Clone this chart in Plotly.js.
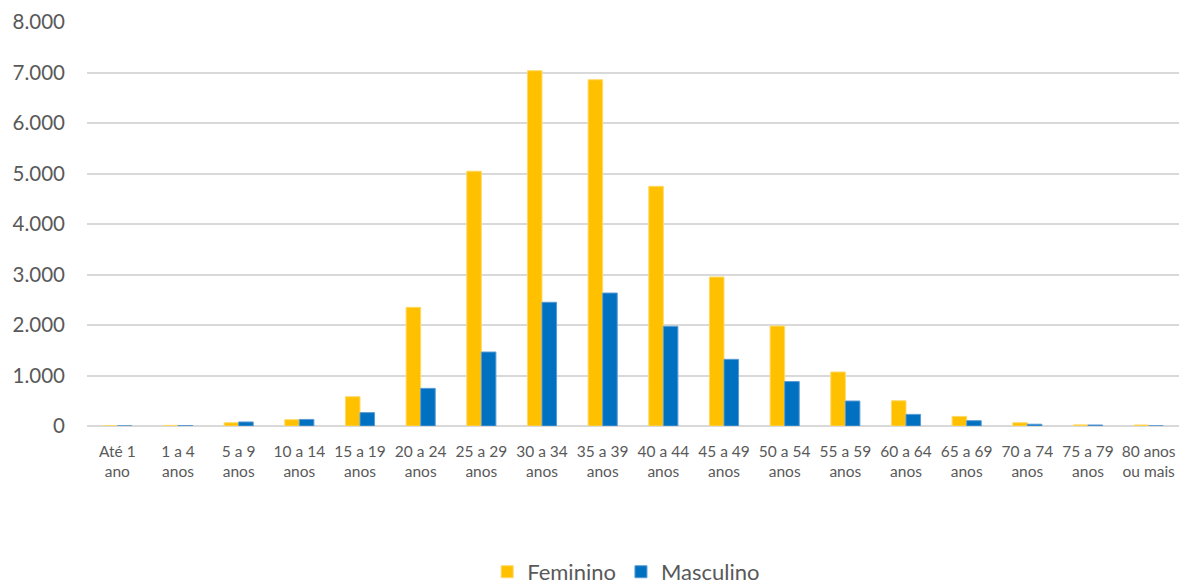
<!DOCTYPE html>
<html><head><meta charset="utf-8">
<script src="https://cdn.plot.ly/plotly-3.0.1.min.js"></script>
<style>html,body{margin:0;padding:0;background:#fff}#chart{width:1195px;height:586px}</style>
</head><body><div id="chart"></div>
<script>
const categories = ["Até 1<br>ano","1 a 4<br>anos","5 a 9<br>anos","10 a 14<br>anos","15 a 19<br>anos","20 a 24<br>anos","25 a 29<br>anos","30 a 34<br>anos","35 a 39<br>anos","40 a 44<br>anos","45 a 49<br>anos","50 a 54<br>anos","55 a 59<br>anos","60 a 64<br>anos","65 a 69<br>anos","70 a 74<br>anos","75 a 79<br>anos","80 anos<br>ou mais"];
const feminino = [3, 12, 65, 125, 580, 2350, 5045, 7035, 6857, 4746, 2950, 1980, 1070, 500, 190, 65, 22, 20];
const masculino = [2, 10, 80, 130, 265, 745, 1465, 2450, 2633, 1974, 1320, 880, 495, 230, 105, 35, 20, 3];
const yTicks = [0,1000,2000,3000,4000,5000,6000,7000,8000];

const font = {family: "Lato, 'Open Sans', sans-serif", color: "#595959"};
const traces = [
  {type:'bar', name:'Feminino', x:categories, y:feminino, marker:{color:'#FFC000', line:{color:'#FFD966', width:1}}},
  {type:'bar', name:'Masculino', x:categories, y:masculino, marker:{color:'#0070C0', line:{color:'#5B9BD5', width:1}}}
];
const layout = {
  width:1195, height:586,
  margin:{l:87, r:16, t:22, b:160},
  paper_bgcolor:'#fff', plot_bgcolor:'#fff',
  separators:',.',
  barmode:'group', bargap:0.52, bargroupgap:0,
  font: font,
  xaxis:{type:'category', tickfont:{size:15.5, family:font.family, color:'#595959'}, showgrid:false, showline:false, ticks:'', zeroline:false, automargin:false, ticklabelstandoff:14},
  yaxis:{range:[0,8000], tickvals:yTicks, tickformat:',d', tickfont:{size:20.5, family:font.family, color:'#595959'}, showgrid:true, gridcolor:'#d9d9d9', gridwidth:1.5, zeroline:true, zerolinecolor:'#d9d9d9', zerolinewidth:1.5, ticks:'', ticklabelstandoff:21, automargin:false},
  showlegend:true,
  legend:{orientation:'h', x:0.524, xanchor:'center', xref:'container', y:0.024, yref:'container', yanchor:'middle', font:{size:22, family:font.family, color:'#595959'}, itemwidth:30}
};
Plotly.newPlot('chart', traces, layout, {displayModeBar:false});
</script></body></html>
